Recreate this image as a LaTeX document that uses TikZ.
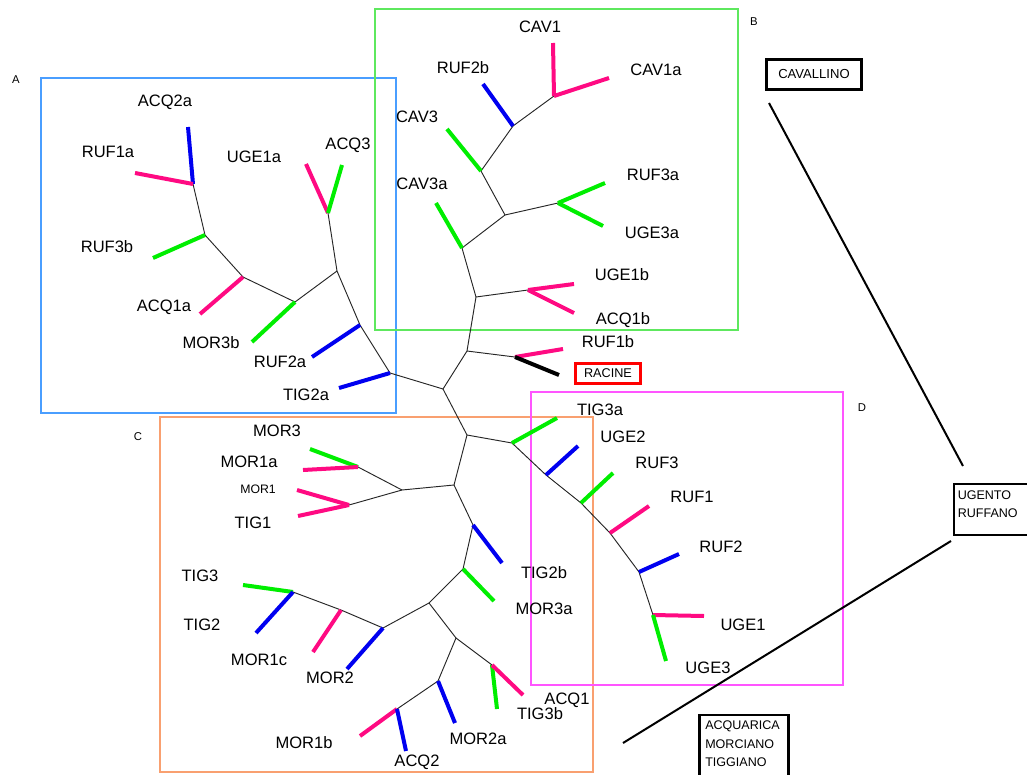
\documentclass[tikz,border=0pt]{standalone}
\usepackage{fontspec}
\setmainfont{Liberation Sans}
\definecolor{pk}{HTML}{FF0A82}
\definecolor{gn}{HTML}{00EE00}
\definecolor{bl}{HTML}{0000F0}
\definecolor{frA}{HTML}{4A9EFF}
\definecolor{frB}{HTML}{5EE85E}
\definecolor{frC}{HTML}{F9A070}
\definecolor{frD}{HTML}{FF55FF}
\definecolor{rc}{HTML}{FF0000}
\begin{document}
\begin{tikzpicture}[x=0.75pt,y=-0.75pt,
  br/.style={line width=0.7pt, black!85},
  lfP/.style={line width=3pt, pk},
  lfG/.style={line width=3pt, gn},
  lfB/.style={line width=3pt, bl},
  lfK/.style={line width=3pt, black},
  lab/.style={font=\fontsize{12.4}{14}\selectfont, inner sep=0pt},
  slab/.style={font=\fontsize{9.2}{11}\selectfont, inner sep=0pt},
  grp/.style={font=\fontsize{8.5}{10}\selectfont, inner sep=0pt},
  frame/.style={line width=1.2pt},
  place/.style={line width=2.2pt, black},
  placetext/.style={font=\fontsize{9.4}{13.9}\selectfont, inner sep=0pt, align=left}
]
\useasboundingbox (0,0) rectangle (1027,774);
\fill[white] (0,0) rectangle (1027,774);

% group frames
\draw[frame, frA] (41,78) rectangle (396,413);
\draw[frame, frB] (375,9) rectangle (738,330);
\draw[frame, frC] (160,417) rectangle (593,772);
\draw[frame, frD] (531,392) rectangle (843,685);
\node[grp] (gA) at (16,80) {A};
\node[grp] (gB) at (754,22) {B};
\node[grp] (gC) at (138,437) {C};
\node[grp] (gD) at (862,408) {D};

% junctions
\coordinate (jA1) at (193,184);
\coordinate (jA2) at (205,235);
\coordinate (jA3) at (243,277);
\coordinate (jA4) at (295,302);
\coordinate (jA5) at (337,271);
\coordinate (jA6) at (328,213);
\coordinate (jA7) at (360,325);
\coordinate (jA8) at (390,373);
\coordinate (root) at (443,389);
\coordinate (jB0) at (467,351);
\coordinate (jB1) at (476,297);
\coordinate (jB2) at (462,248);
\coordinate (jB3) at (505,215);
\coordinate (jB4) at (481,171);
\coordinate (jB5) at (513,126);
\coordinate (jB6) at (554,96);
\coordinate (jB7) at (558,203);
\coordinate (jB8) at (528,290);
\coordinate (jR) at (515,357);
\coordinate (jC0) at (467,435);
\coordinate (jD1) at (512,443);
\coordinate (jD2) at (546,475);
\coordinate (jD3) at (581,503);
\coordinate (jD4) at (610,533);
\coordinate (jD5) at (639,572);
\coordinate (jD6) at (653,615);
\coordinate (jC1) at (454,485);
\coordinate (jC2) at (402,490);
\coordinate (jC3) at (358,467);
\coordinate (jC4) at (349,505);
\coordinate (jC5) at (473,525);
\coordinate (jC6) at (463,569);
\coordinate (jC7) at (429,603);
\coordinate (jC8) at (383,628);
\coordinate (jC9) at (341,610);
\coordinate (jC10) at (293,592);
\coordinate (jC11) at (456,638);
\coordinate (jC12) at (492,665);
\coordinate (jC13) at (438,681);
\coordinate (jC14) at (397,709);

% leaf ends
\coordinate (eACQ2a) at (188,127);
\coordinate (eRUF1a) at (135,173);
\coordinate (eRUF3b) at (153,258);
\coordinate (eACQ1a) at (200,314);
\coordinate (eMOR3b) at (252,342);
\coordinate (eUGE1a) at (306,164);
\coordinate (eACQ3) at (342,165);
\coordinate (eRUF2a) at (312,357);
\coordinate (eTIG2a) at (339,388);
\coordinate (eCAV1) at (553,43);
\coordinate (eCAV1a) at (609,78);
\coordinate (eRUF2b) at (483,84);
\coordinate (eCAV3) at (447,129);
\coordinate (eRUF3a) at (605,183);
\coordinate (eUGE3a) at (603,226);
\coordinate (eCAV3a) at (436,203);
\coordinate (eUGE1b) at (574,284);
\coordinate (eACQ1b) at (574,313);
\coordinate (eRUF1b) at (563,349);
\coordinate (eRAC) at (559,375);
\coordinate (eTIG3a) at (557,418);
\coordinate (eUGE2) at (578,446);
\coordinate (eRUF3) at (613,473);
\coordinate (eRUF1) at (649,506);
\coordinate (eRUF2) at (679,554);
\coordinate (eUGE1) at (704,616);
\coordinate (eUGE3) at (666,661);
\coordinate (eMOR3) at (310,449);
\coordinate (eMOR1a) at (303,470);
\coordinate (eMOR1) at (297,490);
\coordinate (eTIG1) at (298,516);
\coordinate (eTIG2b) at (502,563);
\coordinate (eMOR3a) at (494,601);
\coordinate (eMOR2) at (347,669);
\coordinate (eMOR1c) at (313,652);
\coordinate (eTIG3) at (243,585);
\coordinate (eTIG2) at (256,633);
\coordinate (eTIG3b) at (497,709);
\coordinate (eACQ1) at (523,695);
\coordinate (eMOR2a) at (455,723);
\coordinate (eMOR1b) at (360,736);
\coordinate (eACQ2) at (406,751);

% internal branches
\foreach \a/\b in {jA1/jA2,jA2/jA3,jA3/jA4,jA4/jA5,jA5/jA6,jA5/jA7,jA7/jA8,jA8/root,
  root/jB0,jB0/jB1,jB1/jB2,jB2/jB3,jB3/jB4,jB4/jB5,jB5/jB6,jB3/jB7,jB1/jB8,jB0/jR,
  root/jC0,jC0/jD1,jD1/jD2,jD2/jD3,jD3/jD4,jD4/jD5,jD5/jD6,
  jC0/jC1,jC1/jC2,jC2/jC3,jC2/jC4,jC1/jC5,jC5/jC6,jC6/jC7,jC7/jC8,jC8/jC9,jC9/jC10,
  jC7/jC11,jC11/jC12,jC11/jC13,jC13/jC14}
  \draw[br] (\a) -- (\b);

% terminal branches
\foreach \a/\b/\s in {jA1/eACQ2a/lfB,jA1/eRUF1a/lfP,jA2/eRUF3b/lfG,jA3/eACQ1a/lfP,
  jA4/eMOR3b/lfG,jA6/eUGE1a/lfP,jA6/eACQ3/lfG,jA7/eRUF2a/lfB,jA8/eTIG2a/lfB,
  jB6/eCAV1/lfP,jB6/eCAV1a/lfP,jB5/eRUF2b/lfB,jB4/eCAV3/lfG,jB7/eRUF3a/lfG,
  jB7/eUGE3a/lfG,jB2/eCAV3a/lfG,jB8/eUGE1b/lfP,jB8/eACQ1b/lfP,jR/eRUF1b/lfP,jR/eRAC/lfK,
  jD1/eTIG3a/lfG,jD2/eUGE2/lfB,jD3/eRUF3/lfG,jD4/eRUF1/lfP,jD5/eRUF2/lfB,
  jD6/eUGE1/lfP,jD6/eUGE3/lfG,
  jC3/eMOR3/lfG,jC3/eMOR1a/lfP,jC4/eMOR1/lfP,jC4/eTIG1/lfP,jC5/eTIG2b/lfB,
  jC6/eMOR3a/lfG,jC8/eMOR2/lfB,jC9/eMOR1c/lfP,jC10/eTIG3/lfG,jC10/eTIG2/lfB,
  jC12/eTIG3b/lfG,jC12/eACQ1/lfP,jC13/eMOR2a/lfB,jC14/eMOR1b/lfP,jC14/eACQ2/lfB}
  \draw[\s] (\a) -- (\b);

% labels
\node[lab] (tACQ2a) at (165,102) {ACQ2a};
\node[lab] (tRUF1a) at (108,152) {RUF1a};
\node[lab] (tUGE1a) at (254,157) {UGE1a};
\node[lab] (tACQ3) at (348,145) {ACQ3};
\node[lab] (tRUF3b) at (107,247) {RUF3b};
\node[lab] (tACQ1a) at (164,307) {ACQ1a};
\node[lab] (tMOR3b) at (211,343) {MOR3b};
\node[lab] (tRUF2a) at (280,362) {RUF2a};
\node[lab] (tTIG2a) at (306,395) {TIG2a};
\node[lab] (tCAV1) at (540,27) {CAV1};
\node[lab] (tRUF2b) at (463,68) {RUF2b};
\node[lab] (tCAV1a) at (656,70) {CAV1a};
\node[lab] (tCAV3) at (417,117) {CAV3};
\node[lab] (tCAV3a) at (422,184) {CAV3a};
\node[lab] (tRUF3a) at (653,175) {RUF3a};
\node[lab] (tUGE3a) at (652,233) {UGE3a};
\node[lab] (tUGE1b) at (622,275) {UGE1b};
\node[lab] (tACQ1b) at (623,320) {ACQ1b};
\node[lab] (tRUF1b) at (608,342) {RUF1b};
\node[lab] (tTIG3a) at (600,410) {TIG3a};
\node[lab] (tUGE2) at (623,437) {UGE2};
\node[lab] (tRUF3) at (657,463) {RUF3};
\node[lab] (tRUF1) at (692,497) {RUF1};
\node[lab] (tRUF2) at (721,547) {RUF2};
\node[lab] (tUGE1) at (743,625) {UGE1};
\node[lab] (tUGE3) at (708,668) {UGE3};
\node[lab] (tMOR3) at (277,431) {MOR3};
\node[lab] (tMOR1a) at (249,462) {MOR1a};
\node[slab] (tMOR1) at (258,489) {MOR1};
\node[lab] (tTIG1) at (253,523) {TIG1};
\node[lab] (tTIG3) at (200,576) {TIG3};
\node[lab] (tTIG2) at (202,625) {TIG2};
\node[lab] (tMOR1c) at (259,660) {MOR1c};
\node[lab] (tMOR2) at (330,678) {MOR2};
\node[lab] (tTIG2b) at (544,573) {TIG2b};
\node[lab] (tMOR3a) at (544,609) {MOR3a};
\node[lab] (tACQ1) at (567,700) {ACQ1};
\node[lab] (tTIG3b) at (540,714) {TIG3b};
\node[lab] (tMOR2a) at (478,739) {MOR2a};
\node[lab] (tMOR1b) at (304,743) {MOR1b};
\node[lab] (tACQ2) at (417,762) {ACQ2};

% root box
\node[draw=rc, line width=2.2pt, font=\fontsize{9.5}{11}\selectfont,
  minimum width=49pt, minimum height=15.5pt, inner sep=0pt] (racine) at (608,373.5) {RACINE};

% locality boxes
\node[draw, place, font=\fontsize{9.8}{12}\selectfont, minimum width=71.5pt,
  minimum height=23pt, inner sep=0pt] (cav) at (814,74.5) {CAVALLINO};
\draw[place] (954,484) rectangle (1035,535);
\node[placetext, anchor=north west] (uge) at (957.5,490) {UGENTO\\RUFFANO};
\draw[place] (699.5,715) rectangle (788.5,790);
\node[placetext, anchor=north west] (acq) at (705,720.5) {ACQUARICA\\MORCIANO\\TIGGIANO};

% connecting lines
\coordinate (l1a) at (769,103);
\coordinate (l1b) at (963,466);
\coordinate (l2a) at (951,541);
\coordinate (l2b) at (623,743);
\draw[line width=1.5pt] (l1a) -- (l1b);
\draw[line width=1.5pt] (l2a) -- (l2b);
\end{tikzpicture}
\end{document}
